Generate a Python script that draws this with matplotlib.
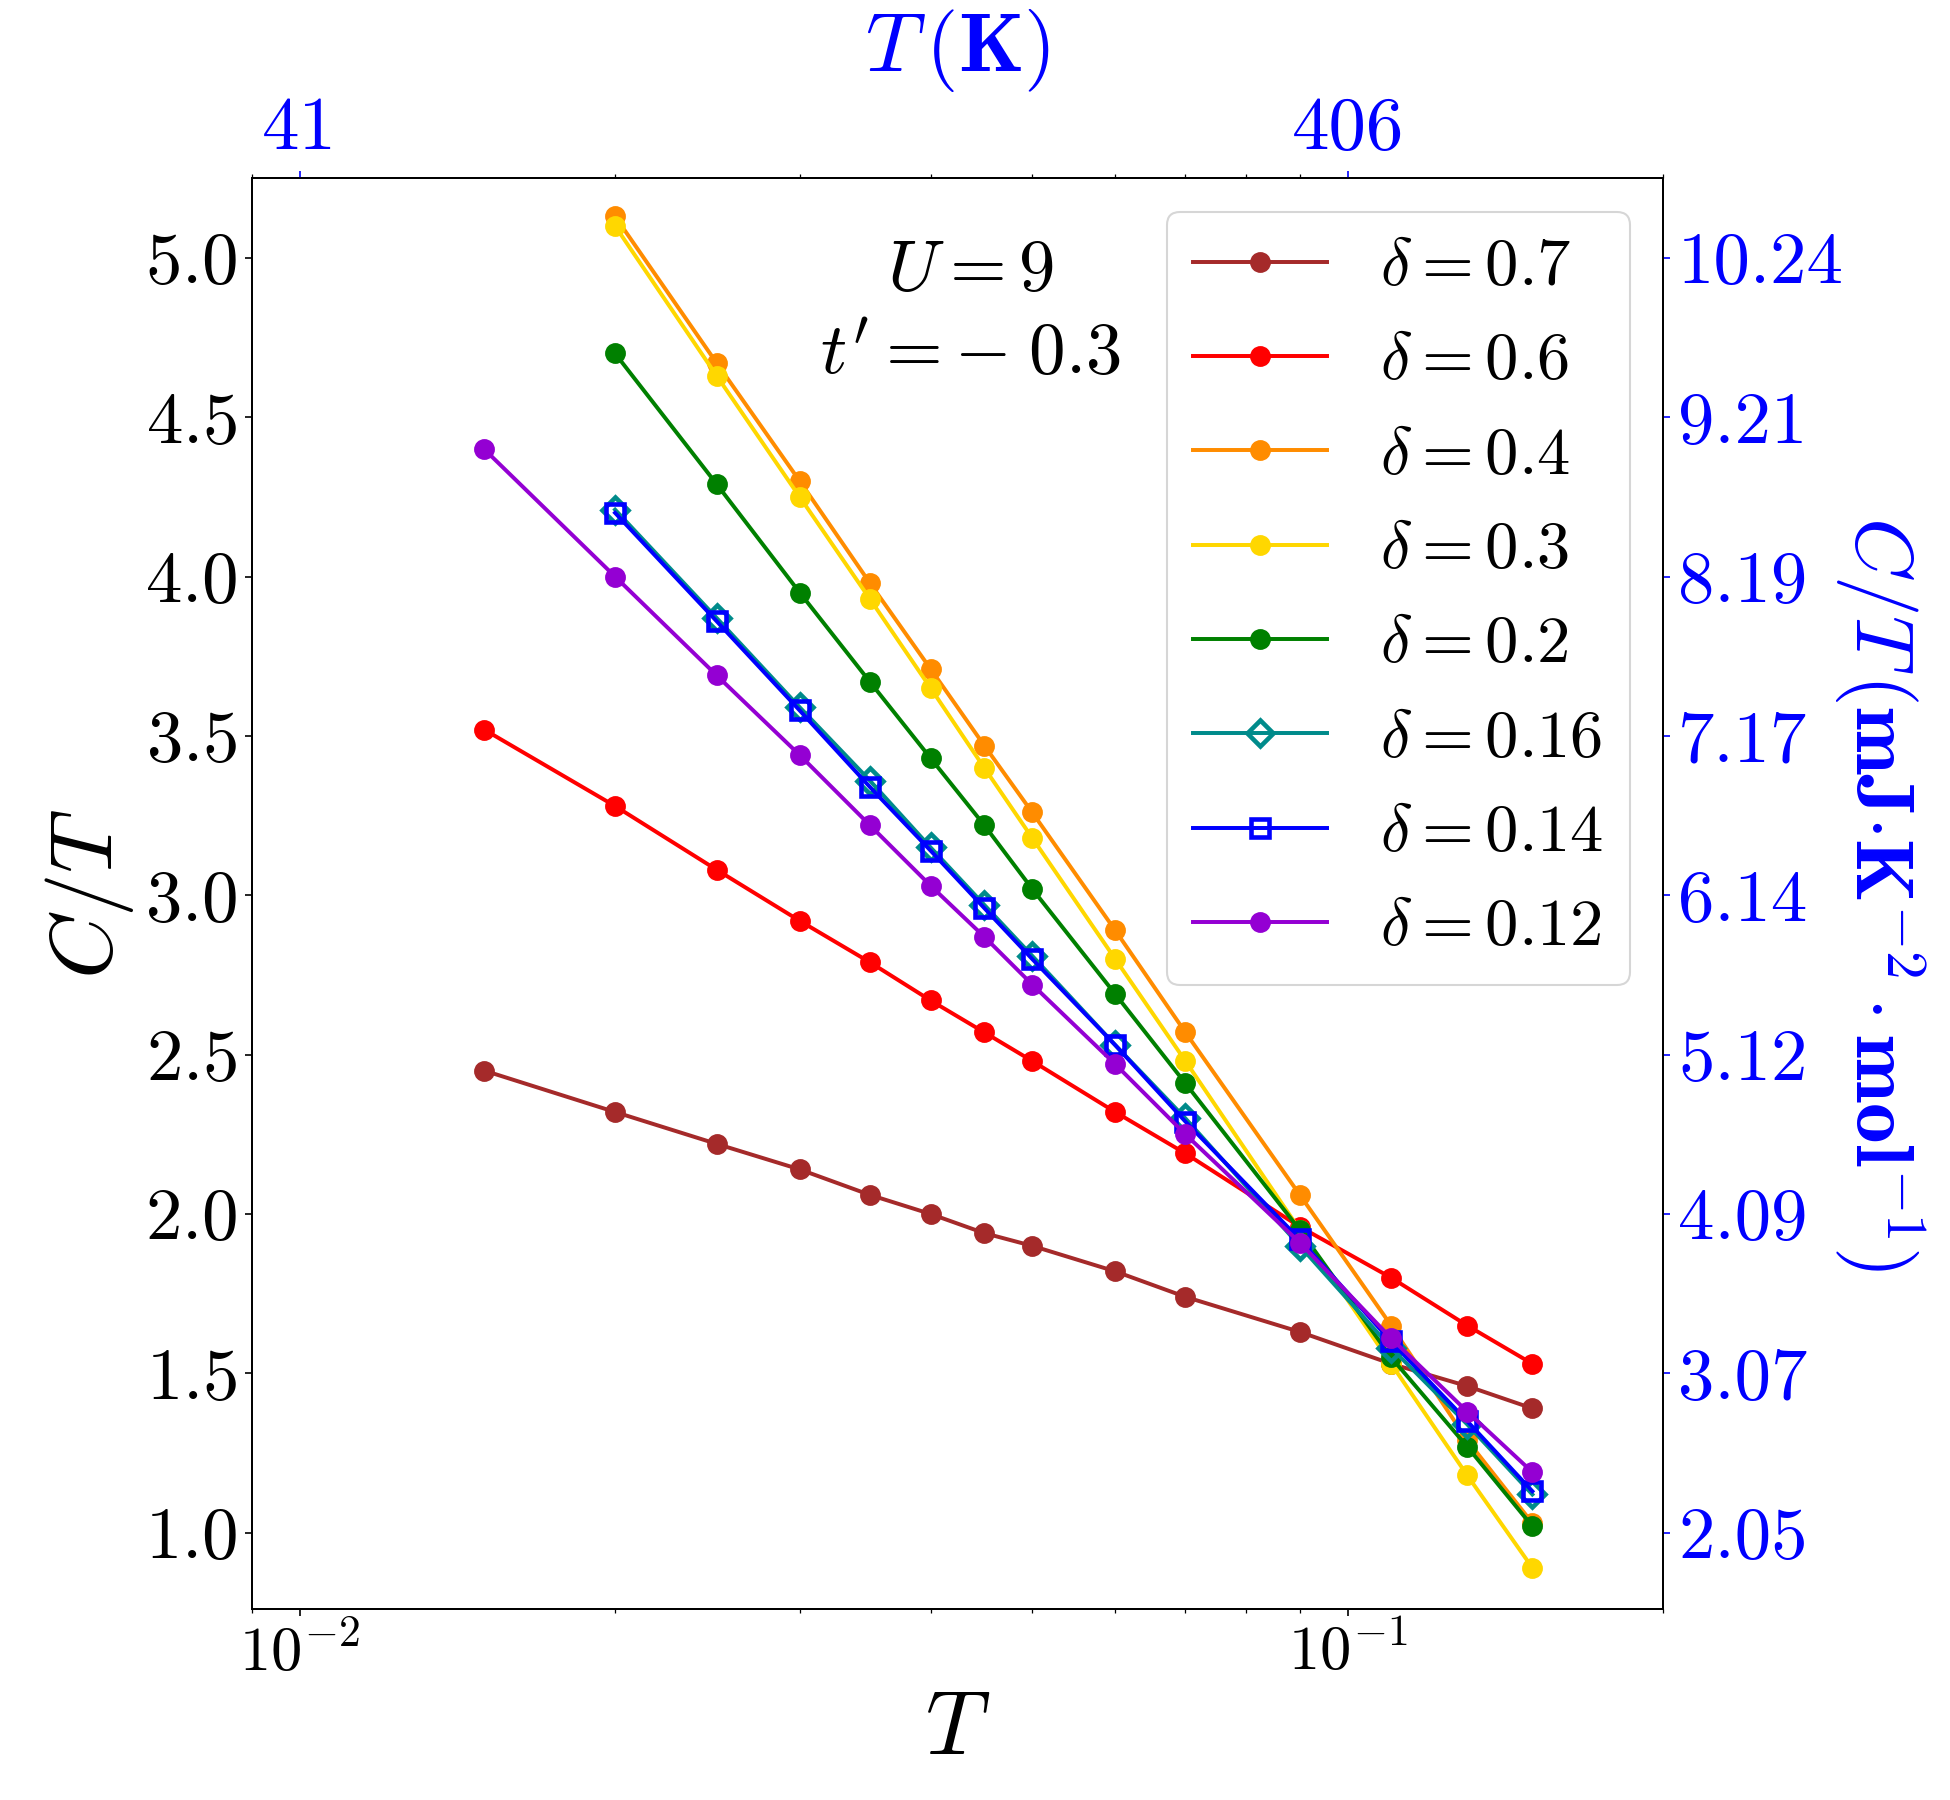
import numpy as np
import matplotlib
matplotlib.use("Agg")
import matplotlib.pyplot as plt
import matplotlib.ticker as mticker

plt.rcParams["font.family"] = "serif"
plt.rcParams["font.serif"] = ["cmr10"]
plt.rcParams["mathtext.fontset"] = "cm"
plt.rcParams["axes.formatter.use_mathtext"] = True
plt.rcParams["axes.unicode_minus"] = False

# temperatures (model units)
T_long = [0.015, 0.02, 0.025, 0.03, 0.035, 0.04, 0.045, 0.05, 0.06, 0.07, 0.09, 0.11, 0.13, 0.15]
T_short = T_long[1:]

# C/T for each doping
ct_07 = [2.45, 2.32, 2.22, 2.14, 2.06, 2.00, 1.94, 1.90, 1.82, 1.74, 1.63, 1.53, 1.46, 1.39]
ct_06 = [3.52, 3.28, 3.08, 2.92, 2.79, 2.67, 2.57, 2.48, 2.32, 2.19, 1.96, 1.80, 1.65, 1.53]
ct_04 = [5.13, 4.67, 4.30, 3.98, 3.71, 3.47, 3.26, 2.89, 2.57, 2.06, 1.65, 1.29, 1.03]
ct_03 = [5.10, 4.63, 4.25, 3.93, 3.65, 3.40, 3.18, 2.80, 2.48, 1.95, 1.53, 1.18, 0.89]
ct_02 = [4.70, 4.29, 3.95, 3.67, 3.43, 3.22, 3.02, 2.69, 2.41, 1.95, 1.55, 1.27, 1.02]
ct_016 = [4.21, 3.87, 3.59, 3.36, 3.15, 2.97, 2.81, 2.53, 2.30, 1.90, 1.58, 1.34, 1.12]
ct_014 = [4.20, 3.86, 3.58, 3.34, 3.14, 2.96, 2.80, 2.53, 2.29, 1.92, 1.60, 1.35, 1.13]
ct_012 = [4.40, 4.00, 3.69, 3.44, 3.22, 3.03, 2.87, 2.72, 2.47, 2.25, 1.91, 1.61, 1.38, 1.19]

# right-axis labels (C/T in mJ K^-2 mol^-1) at left ticks 1.0 ... 5.0
left_ticks = [1.0, 1.5, 2.0, 2.5, 3.0, 3.5, 4.0, 4.5, 5.0]
right_labels = ["2.05", "3.07", "4.09", "5.12", "6.14", "7.17", "8.19", "9.21", "10.24"]

# top-axis labels (T in K)
top_ticks = [0.01, 0.1]
top_labels = ["41", "406"]

series = [
    (T_long, ct_07, r"$\delta=0.7$", "brown", "o"),
    (T_long, ct_06, r"$\delta=0.6$", "red", "o"),
    (T_short, ct_04, r"$\delta=0.4$", "darkorange", "o"),
    (T_short, ct_03, r"$\delta=0.3$", "gold", "o"),
    (T_short, ct_02, r"$\delta=0.2$", "green", "o"),
    (T_short, ct_016, r"$\delta=0.16$", "darkcyan", "D"),
    (T_short, ct_014, r"$\delta=0.14$", "blue", "s"),
    (T_long, ct_012, r"$\delta=0.12$", "darkviolet", "o"),
]

fig = plt.figure(figsize=(13, 12), dpi=150)
ax = fig.add_axes([0.129, 0.106, 0.724, 0.795])

for x, y, lab, col, mk in series:
    if mk == "o":
        ax.plot(x, y, color=col, marker=mk, ms=9, lw=1.9, label=lab)
    else:
        ax.plot(x, y, color=col, marker=mk, ms=8.5, lw=1.9, mfc="none", mew=2.2, label=lab)

ax.set_xscale("log")
ax.set_xlim(0.009, 0.2)
ax.set_ylim(0.76, 5.25)
ax.set_yticks(left_ticks)
ax.tick_params(axis="y", labelsize=35)
ax.tick_params(axis="x", labelsize=30)
ax.set_xlabel(r"$T$", fontsize=43)
ax.set_ylabel(r"$C/T$", fontsize=42)

ax.text(0.509, 0.935, r"$U=9$", transform=ax.transAxes, fontsize=35, ha="center", va="center")
ax.text(0.509, 0.876, r"$t'=-\;0.3$", transform=ax.transAxes, fontsize=35, ha="center", va="center")

ax.legend(loc="upper right", fontsize=32, handlelength=2.0, labelspacing=0.52)

# right axis in physical units
ax_r = ax.twinx()
ax_r.set_ylim(ax.get_ylim())
ax_r.set_yticks(left_ticks)
ax_r.set_yticklabels(right_labels)
ax_r.tick_params(axis="y", colors="blue", labelsize=35)
ax_r.set_ylabel(r"$C/T\,(\mathbf{mJ}{\cdot}\mathbf{K}^{-2}\cdot\mathbf{mol}^{-1})$",
                color="blue", fontsize=39, rotation=270, labelpad=40)

# top axis in kelvin
ax_t = ax.twiny()
ax_t.set_xscale("log")
ax_t.set_xlim(ax.get_xlim())
ax_t.set_xticks(top_ticks)
ax_t.set_xticklabels(top_labels)
ax_t.tick_params(axis="x", which="major", colors="blue", labelsize=36)
ax_t.set_xlabel(r"$T\,(\mathbf{K})$", color="blue", fontsize=40, labelpad=12)

fig.savefig("out.png", dpi=150)
